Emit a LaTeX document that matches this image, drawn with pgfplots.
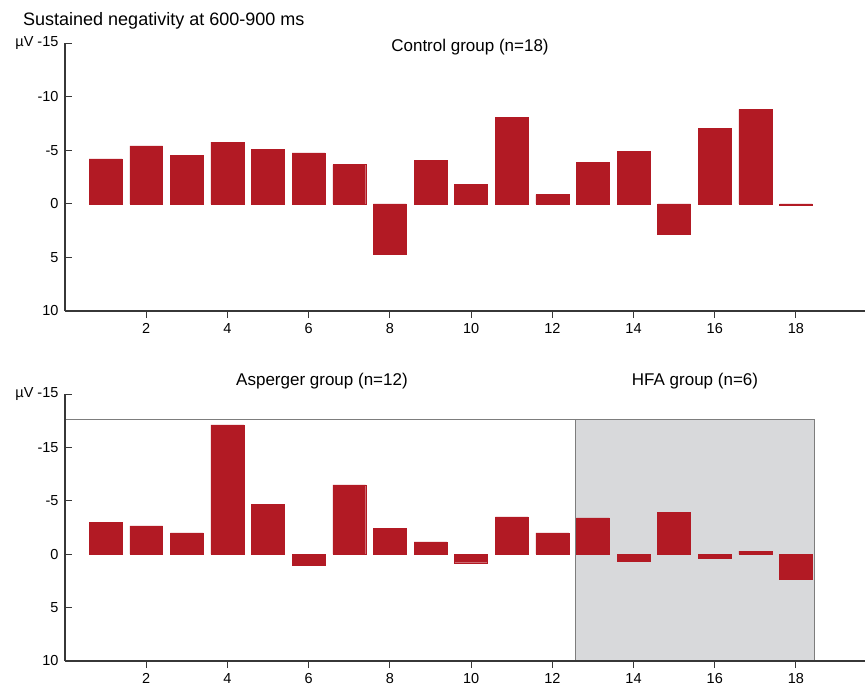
\documentclass[border=0pt]{standalone}
\usepackage{pgfplots}
\pgfplotsset{compat=1.18}
\usepackage{pgfplotstable}
\usepackage{fontspec}
\setmainfont{Liberation Sans}
\definecolor{barred}{RGB}{178,26,36}
\definecolor{boxgray}{RGB}{216,217,219}
\definecolor{boxedge}{RGB}{125,125,125}
\definecolor{axgray}{RGB}{55,55,55}

\pgfplotstableread{
x y
1 -4.2
2 -5.4
3 -4.55
4 -5.75
5 -5.1
6 -4.75
7 -3.65
8 4.7
9 -4.05
10 -1.8
11 -8.05
12 -0.85
13 -3.85
14 -4.9
15 2.85
16 -7.05
17 -8.8
18 0.12
}\controldata

\pgfplotstableread{
x y
1 -3.0
2 -2.65
3 -2.0
4 -12.1
5 -4.65
6 1.0
7 -6.5
8 -2.4
9 -1.15
10 0.8
11 -3.5
12 -2.0
13 -3.4
14 0.7
15 -3.9
16 0.4
17 -0.3
18 2.35
}\clinicaldata

\begin{document}
\begin{tikzpicture}[x=1pt,y=1pt]
\path[use as bounding box] (0pt,0pt) rectangle (865pt,686pt);
\pgfplotsset{
 panel/.style={
  scale only axis, width=800pt, xmin=0, xmax=19.7, ymin=-15, ymax=10,
  y dir=reverse,
  axis x line*=bottom, axis y line*=left,
  axis line style={-, axgray, line width=1.2pt},
  xtick={2,4,...,18}, ytick={-15,-10,-5,0,5,10},
  tick align=inside, major tick length=7pt,
  tick style={axgray, line width=1pt},
  tick label style={font=\fontsize{14.5}{16}\selectfont},
  /pgf/number format/assume math mode=true,
  xticklabel style={yshift=-1.5pt},
  yticklabel style={xshift=-3pt},
  ybar, bar width=0.81, bar shift=0pt,
  axis on top,
  clip=false,
 }
}
\begin{axis}[panel, at={(65pt,375pt)}, anchor=south west, height=268pt,
  yticklabels={µV -15,-10,-5,0,5,10}]
\addplot[fill=barred, draw=barred, line width=0.4pt] table[x=x,y=y] {\controldata};
\end{axis}

\begin{axis}[panel, at={(65pt,25pt)}, anchor=south west, height=267pt,
  yticklabels={µV -15,-15,-5,0,5,10}]
\fill[boxgray] (axis cs:12.58,-12.66) rectangle (axis cs:18.45,10);
\draw[boxedge, line width=0.8pt] (axis cs:0,-12.66) -- (axis cs:18.45,-12.66);
\draw[boxedge, line width=0.8pt] (axis cs:12.58,10) -- (axis cs:12.58,-12.66);
\draw[boxedge, line width=0.8pt] (axis cs:18.45,10) -- (axis cs:18.45,-12.66);
\addplot[fill=barred, draw=barred, line width=0.4pt] table[x=x,y=y] {\clinicaldata};
\end{axis}

\node[anchor=base west, font=\fontsize{18}{20}\selectfont, inner sep=0pt] at (23pt,660pt) {Sustained negativity at 600-900 ms};
\node[font=\fontsize{17}{19}\selectfont] at (470pt,639pt) {Control group (n=18)};
\node[font=\fontsize{17}{19}\selectfont] at (322pt,305pt) {Asperger group (n=12)};
\node[font=\fontsize{17}{19}\selectfont] at (695pt,305pt) {HFA group (n=6)};
\end{tikzpicture}
\end{document}
